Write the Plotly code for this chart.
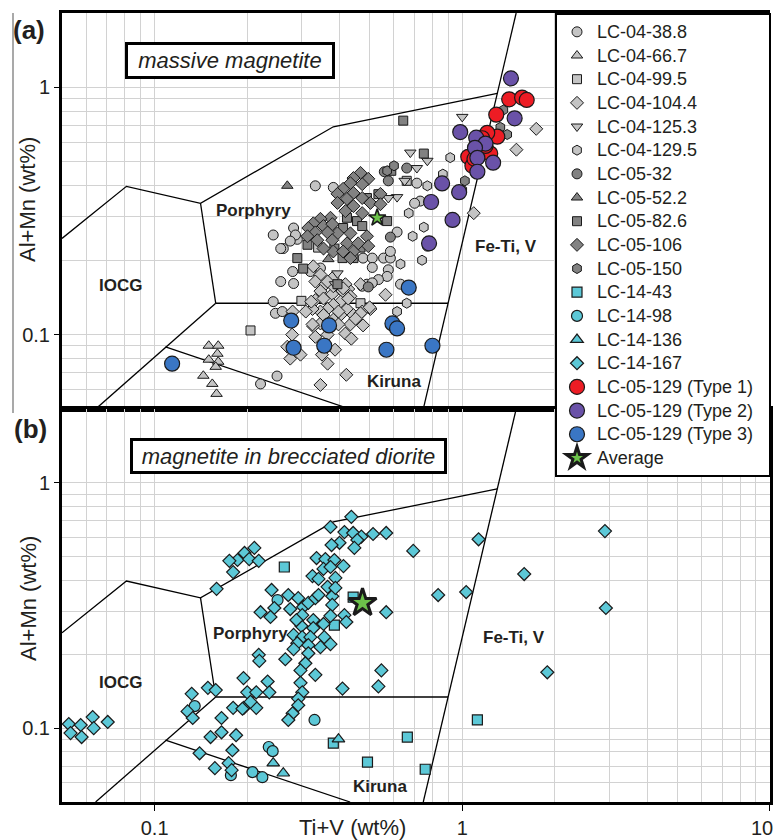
import math
import plotly.graph_objects as go

FONT = "Arial, Liberation Sans, sans-serif"
TXT = "#231f20"
GRID = "#d2d2d2"
LIGHT = "#c4c4c4"
DARK = "#828282"
CYAN = "#5cc8d7"
RED = "#ed1c24"
PURPLE = "#6a52a8"
BLUE = "#3a76c4"
GREEN = "#6cc24a"

# ---------------- field boundaries (Ti+V, Al+Mn in wt%) ----------------
bound_top_x = [0.05, 0.081, 0.141, 0.381, 1.30]
bound_top_y = [0.245, 0.398, 0.34, 0.693, 0.946]
bound_por_x = [0.141, 0.158]
bound_por_y = [0.34, 0.134]
bound_diag_x = [0.0643, 0.158]
bound_diag_y = [0.05, 0.134]
bound_h_x = [0.158, 0.899]
bound_h_y = [0.134, 0.134]
bound_kir_x = [0.1085, 0.432]
bound_kir_y = [0.0893, 0.05]
bound_fe_x = [1.497, 0.747]
bound_fe_y = [2.0, 0.05]

# ---------------- panel (a): massive magnetite ----------------
lc04_388_x = [0.333, 0.381, 0.243, 0.283, 0.262, 0.291, 0.287, 0.276, 0.281, 0.257, 0.283, 0.321, 0.346,
              0.476, 0.51, 0.555, 0.584, 0.51, 0.575, 0.57, 0.49, 0.534, 0.584, 0.243, 0.247, 0.26, 0.221,
              0.25, 0.614, 0.77, 0.73, 0.70, 0.712, 0.51, 0.63, 0.473, 0.257]
lc04_388_y = [0.40, 0.394, 0.253, 0.27, 0.223, 0.243, 0.253, 0.239, 0.18, 0.164, 0.161, 0.18, 0.186,
              0.204, 0.204, 0.204, 0.204, 0.187, 0.183, 0.172, 0.16, 0.167, 0.217, 0.136, 0.122, 0.124, 0.0632,
              0.068, 0.26, 0.228, 0.347, 0.34, 0.41, 0.162, 0.16, 0.157, 0.223]

lc04_667_x = [0.150, 0.161, 0.160, 0.150, 0.161, 0.158, 0.144, 0.154, 0.159]
lc04_667_y = [0.0902, 0.0902, 0.0837, 0.0792, 0.0777, 0.0741, 0.0682, 0.0632, 0.0576]

lc04_995_x = [0.205, 0.30, 0.467, 0.66, 0.34]
lc04_995_y = [0.104, 0.137, 0.134, 0.419, 0.225]

lc04_1044_x = [1.74, 1.50, 1.09, 0.328, 0.346, 0.333, 0.359, 0.378, 0.346, 0.333, 0.354, 0.378, 0.408,
               0.426, 0.433, 0.402, 0.381, 0.422, 0.365, 0.346, 0.326, 0.503, 0.473, 0.443, 0.433, 0.402,
               0.381, 0.346, 0.328, 0.563, 0.467, 0.417, 0.426, 0.281, 0.31, 0.354, 0.396, 0.467, 0.50,
               0.326, 0.365, 0.396, 0.417, 0.436, 0.476, 0.333, 0.386, 0.365, 0.35, 0.298, 0.27, 0.276,
               0.346, 0.42, 0.28, 0.45, 0.41, 0.381, 0.365, 0.323]
lc04_1044_y = [0.68, 0.56, 0.31, 0.189, 0.175, 0.164, 0.16, 0.169, 0.15, 0.138, 0.14, 0.146, 0.15,
               0.153, 0.143, 0.136, 0.132, 0.127, 0.127, 0.124, 0.127, 0.127, 0.124, 0.12, 0.11, 0.12,
               0.115, 0.111, 0.108, 0.145, 0.16, 0.16, 0.14, 0.124, 0.124, 0.12, 0.124, 0.122, 0.129,
               0.11, 0.10, 0.11, 0.101, 0.0963, 0.109, 0.098, 0.0869, 0.0763, 0.083, 0.083, 0.0894, 0.08,
               0.0626, 0.0688, 0.10, 0.116, 0.154, 0.157, 0.164, 0.136]

lc04_1253_x = [1.0, 0.678, 0.712, 0.77, 0.614, 0.65, 0.393, 0.386, 0.575]
lc04_1253_y = [0.76, 0.545, 0.472, 0.505, 0.36, 0.419, 0.177, 0.16, 0.357]

lc04_1295_x = [0.67, 0.914, 0.77, 0.865, 0.66, 0.614, 0.75, 0.69, 0.74, 0.63]
lc04_1295_y = [0.31, 0.52, 0.40, 0.446, 0.134, 0.124, 0.272, 0.25, 0.20, 0.193]

lc05_32_x = [0.495, 0.66, 0.558, 0.575, 0.584]
lc05_32_y = [0.156, 0.472, 0.456, 0.419, 0.248]

lc05_522_x = [0.27, 0.367]
lc05_522_y = [0.40, 0.202]

lc05_826_x = [0.643, 0.75, 0.588, 0.534, 0.49, 0.455, 0.422, 0.41, 0.473, 0.57, 0.314, 0.384, 0.408,
              0.443, 0.291, 0.304, 0.467, 0.393]
lc05_826_y = [0.734, 0.54, 0.46, 0.37, 0.357, 0.288, 0.297, 0.27, 0.275, 0.288, 0.231, 0.223, 0.204,
              0.204, 0.204, 0.185, 0.225, 0.16]

lc05_106_x = [0.467, 0.443, 0.495, 0.433, 0.473, 0.41, 0.393, 0.443, 0.473, 0.422,
              0.393, 0.503, 0.542, 0.542, 0.443, 0.473, 0.417, 0.373, 0.346, 0.328,
              0.316, 0.354, 0.378, 0.393, 0.433, 0.49, 0.365, 0.333, 0.314, 0.338,
              0.378, 0.422, 0.459, 0.495, 0.443, 0.381, 0.41, 0.433, 0.354]
lc05_106_y = [0.451, 0.43, 0.427, 0.41, 0.406, 0.389, 0.371, 0.374, 0.357, 0.354,
              0.341, 0.341, 0.371, 0.337, 0.331, 0.31, 0.316, 0.297, 0.294, 0.282,
              0.27, 0.275, 0.28, 0.257, 0.257, 0.25, 0.259, 0.259, 0.25, 0.241,
              0.241, 0.234, 0.234, 0.228, 0.217, 0.217, 0.217, 0.204, 0.223]

lc05_150_x = [1.36, 1.4, 1.33, 1.02, 1.0, 0.57, 0.60]
lc05_150_y = [0.81, 0.645, 0.69, 0.419, 0.385, 0.46, 0.482]

type1_x = [1.421, 1.565, 1.62, 1.29, 1.30, 1.206, 1.161, 1.046, 1.144, 1.233, 1.079, 1.096, 1.19]
type1_y = [0.895, 0.91, 0.89, 0.776, 0.632, 0.655, 0.623, 0.524, 0.54, 0.54, 0.482, 0.514, 0.58]

type2_x = [1.44, 1.48, 0.985, 1.11, 1.19, 1.10, 1.12, 1.26, 1.12, 0.86, 0.977, 0.792, 0.93, 0.78]
type2_y = [1.088, 0.75, 0.66, 0.626, 0.593, 0.570, 0.519, 0.496, 0.456, 0.409, 0.377, 0.344, 0.291, 0.234]

type3_x = [0.114, 0.278, 0.283, 0.356, 0.369, 0.567, 0.593, 0.614, 0.67, 0.80]
type3_y = [0.0763, 0.114, 0.0885, 0.0902, 0.109, 0.0869, 0.111, 0.106, 0.155, 0.0902]

avg_a_x = [0.529]
avg_a_y = [0.297]

# ---------------- panel (b): magnetite in brecciated diorite ----------------
lc14_43_x = [0.264, 0.442, 0.384, 0.663, 0.381, 1.12, 0.492, 0.758]
lc14_43_y = [0.454, 0.342, 0.263, 0.092, 0.0869, 0.108, 0.0727, 0.068]

lc14_98_x = [0.251, 0.135, 0.331, 0.235, 0.242, 0.177, 0.208, 0.224]
lc14_98_y = [0.333, 0.123, 0.108, 0.0838, 0.0806, 0.0643, 0.0662, 0.0631]

lc14_136_x = [0.396, 0.243, 0.262]
lc14_136_y = [0.0902, 0.072, 0.0655]

lc14_167_x = [0.0526, 0.0533, 0.0575, 0.0579, 0.0629, 0.0634, 0.0704,
              0.128, 0.132, 0.133, 0.149, 0.158, 0.165, 0.165, 0.152, 0.184, 0.140,
              0.179, 0.157, 0.174, 0.178, 0.1945, 0.180, 0.195, 0.200, 0.214, 0.214,
              0.233, 0.236, 0.205, 0.193, 0.218, 0.219, 0.266,
              0.211, 0.196, 0.186, 0.175, 0.203, 0.218, 0.180, 0.159,
              0.240, 0.272, 0.293, 0.245, 0.221, 0.238, 0.276, 0.304, 0.316, 0.333,
              0.341, 0.378, 0.378, 0.302, 0.373, 0.414, 0.420, 0.328, 0.354, 0.300,
              0.328, 0.283, 0.302, 0.321, 0.356, 0.291, 0.316, 0.346, 0.373, 0.283,
              0.316, 0.309, 0.298, 0.333, 0.298, 0.302, 0.293, 0.293, 0.281, 0.272,
              0.336, 0.359, 0.384, 0.354, 0.373, 0.411, 0.326, 0.341, 0.387, 0.365, 0.387,
              0.436, 0.373, 0.414, 0.442, 0.470, 0.513, 0.566, 0.456, 0.399, 0.376, 0.446, 0.693,
              0.566, 0.546, 0.534, 0.408, 1.13, 1.59, 0.835, 1.03, 2.91, 2.93, 1.89, 0.289]
lc14_167_y = [0.104, 0.0955, 0.103, 0.092, 0.111, 0.100, 0.106,
              0.117, 0.138, 0.110, 0.146, 0.143, 0.110, 0.0962, 0.092, 0.0936, 0.079,
              0.0813, 0.0687, 0.072, 0.0674, 0.160, 0.121, 0.121, 0.140, 0.140, 0.121,
              0.155, 0.140, 0.128, 0.120, 0.199, 0.188, 0.191,
              0.543, 0.518, 0.485, 0.481, 0.489, 0.481, 0.433, 0.370,
              0.366, 0.349, 0.339, 0.309, 0.297, 0.284, 0.306, 0.312, 0.324, 0.339,
              0.349, 0.345, 0.318, 0.289, 0.287, 0.289, 0.271, 0.276, 0.266, 0.261,
              0.256, 0.240, 0.235, 0.235, 0.235, 0.222, 0.218, 0.214, 0.220, 0.210,
              0.202, 0.184, 0.172, 0.165, 0.153, 0.140, 0.132, 0.124, 0.115, 0.108,
              0.494, 0.489, 0.485, 0.446, 0.454, 0.458, 0.417, 0.406, 0.410, 0.377, 0.373,
              0.727, 0.661, 0.630, 0.625, 0.604, 0.619, 0.625, 0.585, 0.570, 0.558, 0.543, 0.528,
              0.297, 0.172, 0.148, 0.145, 0.589, 0.425, 0.349, 0.359, 0.636, 0.309, 0.169, 0.276]

avg_b_x = [0.474]
avg_b_y = [0.324]

# ---------------- labels ----------------
field_labels = ["IOCG", "Porphyry", "Fe-Ti, V", "Kiruna"]
field_a_x = [0.0776, 0.21, 1.39, 0.601]
field_a_y = [0.158, 0.319, 0.228, 0.0644]
field_b_x = [0.0776, 0.205, 1.47, 0.542]
field_b_y = [0.153, 0.244, 0.235, 0.058]

x_tickvals = [0.1, 1, 10]
x_ticktext = ["0.1", "1", "10\u2002\u00a0"]
y_tickvals = [0.1, 1]
y_ticktext = ["0.1", "1"]
x_minor = [0.06, 0.07, 0.08, 0.09, 0.2, 0.3, 0.4, 0.5, 0.6, 0.7, 0.8, 0.9, 2, 3, 4, 5, 6, 7, 8, 9]
y_minor = [0.06, 0.07, 0.08, 0.09, 0.2, 0.3, 0.4, 0.5, 0.6, 0.7, 0.8, 0.9]

fig = go.Figure()


def join_lines(pairs):
    xs, ys = [], []
    for px, py in pairs:
        xs += px + [None]
        ys += py + [None]
    return xs, ys


lines_x, lines_y = join_lines([
    (bound_top_x, bound_top_y), (bound_por_x, bound_por_y), (bound_diag_x, bound_diag_y),
    (bound_h_x, bound_h_y), (bound_kir_x, bound_kir_y), (bound_fe_x, bound_fe_y)])

for xa, ya in (("x", "y"), ("x2", "y2")):
    fig.add_trace(go.Scatter(x=lines_x, y=lines_y, mode="lines", xaxis=xa, yaxis=ya,
                             line=dict(color="black", width=1.3), showlegend=False,
                             hoverinfo="skip", connectgaps=False))


def lname(s, pad=0):
    return '<span style="font-size:18px">' + s + "\u00a0" * pad + "</span>"


def add(xs, ys, name, symbol, color, size, panel, showlegend=True, lw=1.0, pad=0):
    fig.add_trace(go.Scatter(
        x=xs, y=ys, mode="markers", name=lname(name, pad),
        xaxis="x" if panel == "a" else "x2", yaxis="y" if panel == "a" else "y2",
        showlegend=showlegend,
        marker=dict(symbol=symbol, color=color, size=size, line=dict(color="#1a1a1a", width=lw))))


add(lc04_388_x, lc04_388_y, "LC-04-38.8", "circle", LIGHT, 10, "a")
add(lc04_667_x, lc04_667_y, "LC-04-66.7", "triangle-up", LIGHT, 10, "a")
add(lc04_995_x, lc04_995_y, "LC-04-99.5", "square", LIGHT, 9, "a")
add(lc04_1044_x, lc04_1044_y, "LC-04-104.4", "diamond", LIGHT, 10, "a")
add(lc04_1253_x, lc04_1253_y, "LC-04-125.3", "triangle-down", LIGHT, 10, "a")
add(lc04_1295_x, lc04_1295_y, "LC-04-129.5", "hexagon", LIGHT, 10, "a")
add(lc05_32_x, lc05_32_y, "LC-05-32", "circle", DARK, 10, "a")
add(lc05_522_x, lc05_522_y, "LC-05-52.2", "triangle-up", DARK, 10, "a")
add(lc05_826_x, lc05_826_y, "LC-05-82.6", "square", DARK, 9, "a")
add(lc05_106_x, lc05_106_y, "LC-05-106", "diamond", DARK, 10, "a")
add(lc05_150_x, lc05_150_y, "LC-05-150", "hexagon", DARK, 10, "a")
add(lc14_43_x, lc14_43_y, "LC-14-43", "square", CYAN, 10, "b", lw=1.2)
add(lc14_98_x, lc14_98_y, "LC-14-98", "circle", CYAN, 11, "b", lw=1.2)
add(lc14_136_x, lc14_136_y, "LC-14-136", "triangle-up", CYAN, 11, "b", lw=1.2)
add(lc14_167_x, lc14_167_y, "LC-14-167", "diamond", CYAN, 10, "b", lw=1.2)
add(type1_x, type1_y, "LC-05-129 (Type 1)", "circle", RED, 15, "a", lw=1.2)
add(type2_x, type2_y, "LC-05-129 (Type 2)", "circle", PURPLE, 15, "a", lw=1.2, pad=2)
add(type3_x, type3_y, "LC-05-129 (Type 3)", "circle", BLUE, 15, "a", lw=1.2)
add(avg_a_x, avg_a_y, "Average", "star", GREEN, 13, "a", showlegend=False, lw=1.6)
add(avg_b_x, avg_b_y, "Average", "star", GREEN, 21, "b", lw=3)

common_x = dict(type="log", range=[math.log10(0.05), 1.0004], showgrid=True, gridcolor=GRID, gridwidth=1.4,
                tickmode="array", tickvals=x_tickvals, ticktext=x_ticktext, automargin=False,
                minor=dict(tickmode="array", tickvals=x_minor, showgrid=True, gridcolor=GRID,
                           gridwidth=1.4, ticks=""),
                showline=True, linecolor="black", linewidth=3, mirror=True, zeroline=False,
                tickfont=dict(family=FONT, size=20, color=TXT))
common_y = dict(type="log", range=[math.log10(0.05), math.log10(2)], showgrid=True, gridcolor=GRID,
                gridwidth=1.4, tickmode="array", tickvals=y_tickvals, ticktext=y_ticktext,
                automargin=False,
                minor=dict(tickmode="array", tickvals=y_minor, showgrid=True, gridcolor=GRID,
                           gridwidth=1.4, ticks=""),
                showline=True, linecolor="black", linewidth=3, zeroline=False,
                ticks="outside", ticklen=5, tickwidth=1, tickcolor="black",
                tickfont=dict(family=FONT, size=20, color=TXT))

SPLIT = 0.498
fig.update_layout(
    width=777, height=840,
    margin=dict(l=62, r=7, t=13, b=38, autoexpand=False),
    paper_bgcolor="white", plot_bgcolor="white",
    font=dict(family=FONT, color=TXT),
    xaxis=dict(common_x, anchor="y", showticklabels=False, ticks=""),
    xaxis2=dict(common_x, anchor="y2", matches="x", ticks="outside", ticklen=6, tickwidth=1,
                tickcolor="black", ticklabeloverflow="allow"),
    yaxis=dict(common_y, domain=[SPLIT, 1], anchor="x", mirror=False),
    yaxis2=dict(common_y, domain=[0, SPLIT], anchor="x2", mirror=True),
    showlegend=True,
    legend=dict(x=(555 - 62) / 708, xanchor="left", y=1, yanchor="top", bgcolor="white",
                bordercolor="black", borderwidth=2, font=dict(family=FONT, size=15.9, color=TXT),
                itemsizing="trace", traceorder="normal"),
)


def pap(px, py):
    return (px - 62) / 708, (802 - py) / 789


ann = []
for lab, xv, yv in zip(field_labels, field_a_x, field_a_y):
    ann.append(dict(text="<b>" + lab + "</b>", x=math.log10(xv), y=math.log10(yv), xref="x", yref="y",
                    xanchor="center", yanchor="middle",
                    showarrow=False, font=dict(family=FONT, size=17, color=TXT)))
for lab, xv, yv in zip(field_labels, field_b_x, field_b_y):
    ann.append(dict(text="<b>" + lab + "</b>", x=math.log10(xv), y=math.log10(yv), xref="x2", yref="y2",
                    xanchor="center", yanchor="middle",
                    showarrow=False, font=dict(family=FONT, size=17, color=TXT)))


def pann(text, px, py, size, **kw):
    x, y = pap(px, py)
    d = dict(text=text, xref="paper", yref="paper", x=x, y=y, xanchor="center", yanchor="middle",
             showarrow=False, font=dict(family=FONT, size=size, color=TXT))
    d.update(kw)
    return d


ann += [
    pann("<i>massive magnetite</i>", 230, 60.5, 22, bgcolor="white", bordercolor="black",
         borderwidth=3, borderpad=1, width=202, height=29),
    pann("<i>magnetite in brecciated diorite</i>", 288.5, 456, 22, bgcolor="white",
         bordercolor="black", borderwidth=3, borderpad=1, width=309, height=28),
    pann("<b>(a)</b>", 29, 30, 26),
    pann("<b>(b)</b>", 30, 429, 26),
    pann("Al+Mn (wt%)", 28, 200, 22, textangle=-90),
    pann("Al+Mn (wt%)", 28, 599, 22, textangle=-90),
    pann("Ti+V (wt%)", 352, 827, 22),
]
fig.update_layout(annotations=ann)

gx, _ = pap(13, 0)
_, gy0 = pap(0, 413)
fig.add_shape(type="line", xref="paper", yref="paper", x0=gx, x1=gx, y0=gy0, y1=1,
              line=dict(color="#8c8c8c", width=1.5))

fig.write_html("out.html")
